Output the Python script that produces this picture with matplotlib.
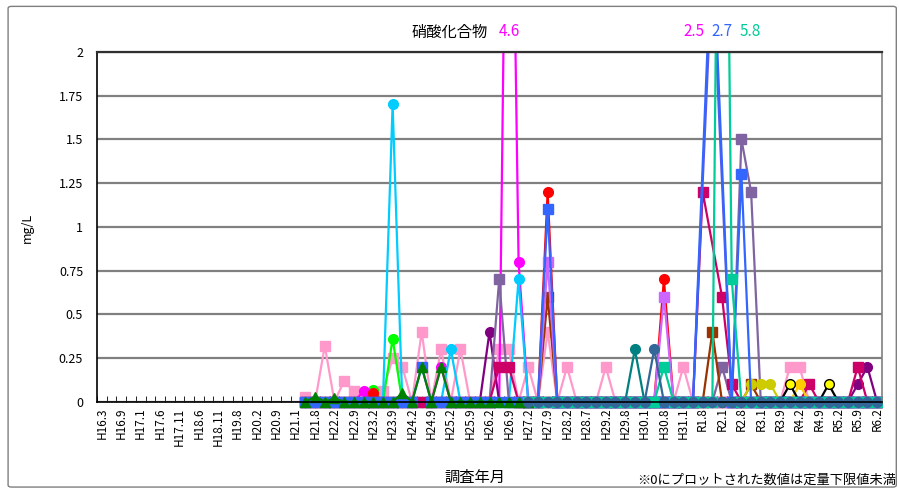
import numpy as np
import matplotlib
matplotlib.use('Agg')
import matplotlib.pyplot as plt
from matplotlib.patches import Rectangle, FancyBboxPatch

plt.rcParams['font.family'] = ['Noto Sans CJK JP', 'DejaVu Sans']

# category axis: 81 survey dates, every second one labelled
n_cat = 81
tick_labels = ['H16.3', 'H16.9', 'H17.1', 'H17.6', 'H17.11', 'H18.6', 'H18.11', 'H19.8',
               'H20.2', 'H20.9', 'H21.1', 'H21.8', 'H22.2', 'H22.9', 'H23.2', 'H23.9',
               'H24.2', 'H24.9', 'H25.2', 'H25.9', 'H26.2', 'H26.9', 'H27.2', 'H27.9',
               'H28.2', 'H28.7', 'H29.2', 'H29.8', 'H30.1', 'H30.8', 'H31.1', 'R1.8',
               'R2.1', 'R2.8', 'R3.1', 'R3.9', 'R4.2', 'R4.9', 'R5.2', 'R5.9', 'R6.2']

# each site: measured from first..last category, 0 (= below limit) unless listed,
# categories in "gaps" were not measured (line connects over them)
# (color, marker, first, last, {category: mg/L}, gaps)
orange = ('#FF6600', 'o', 21, 35, {}, [])
lpink = ('#FF99CC', 's', 21, 80, {21: 0.03, 23: 0.32, 25: 0.12, 26: 0.06, 29: 0.06, 30: 0.25,
                                  31: 0.2, 33: 0.4, 35: 0.3, 37: 0.3, 41: 0.3, 42: 0.3, 44: 0.2,
                                  46: 0.4, 48: 0.2, 52: 0.2, 60: 0.2, 71: 0.2, 72: 0.2}, [])
lime = ('#00FF00', 'o', 21, 44, {28: 0.07, 30: 0.36}, [])
magenta = ('#FF00FF', 'o', 21, 80, {27: 0.06, 35: 0.2, 42: 4.6, 43: 0.8}, [])
red = ('#FF0000', 'o', 21, 80, {28: 0.05, 46: 1.2, 58: 0.7}, [])
cyan = ('#00CCFF', 'o', 21, 80, {30: 1.7, 36: 0.3, 43: 0.7}, [])
purple = ('#800080', 'o', 21, 80, {40: 0.4, 78: 0.1, 79: 0.2}, [])
slate = ('#8064A2', 's', 21, 80, {41: 0.7, 64: 0.2, 66: 1.5, 67: 1.2}, [])
crimson = ('#CC0066', 's', 21, 80, {41: 0.2, 42: 0.2, 62: 1.2, 64: 0.6, 65: 0.1, 73: 0.1,
                                    78: 0.2}, [63])
brown = ('#993300', 's', 44, 80, {46: 0.6, 63: 0.4, 67: 0.1}, [])
violet = ('#CC66FF', 's', 44, 80, {46: 0.8, 58: 0.6}, [])
olive = ('#CCCC00', 'o', 50, 80, {67: 0.1, 68: 0.1, 69: 0.1}, [])
gold = ('#FFCC00', 'o', 60, 80, {72: 0.1}, [])
yellow = ('#FFFF00', 'o', 60, 80, {71: 0.1, 75: 0.1}, [])
blue = ('#3366FF', 's', 21, 47, {33: 0.2, 46: 1.1}, [])
bviolet = ('#5A5AE6', 's', 47, 80, {63: 2.5}, [62, 64])
blue2 = ('#3366FF', 's', 47, 80, {63: 2.7, 66: 1.3}, [62, 64])
teal = ('#008080', 'o', 44, 80, {55: 0.3}, [])
seagreen = ('#00CC99', 's', 44, 80, {58: 0.2, 64: 5.8, 65: 0.7}, [])
dgreen = ('#008000', '^', 21, 44, {22: 0.03, 24: 0.02, 31: 0.05, 33: 0.2, 35: 0.2}, [])
steel = ('#336699', 'o', 44, 80, {57: 0.3}, [])

# drawing order = series order (later ones on top)
series = [orange, lpink, lime, magenta, red, cyan, purple, slate, crimson, brown, violet,
          olive, gold, yellow, blue, bviolet, blue2, teal, seagreen, dgreen, steel]

# values above the axis top, written over the chart
over_labels = [('4.6', 42.0, '#FF00FF'), ('2.5', 61.1, '#FF00FF'),
               ('2.7', 64.0, '#3366FF'), ('5.8', 66.9, '#00CC99')]

fig = plt.figure(figsize=(8.99, 4.90), dpi=100)
fig.patches.append(FancyBboxPatch((0.009, 0.006), 0.988, 0.981, boxstyle='round,pad=0,rounding_size=0.004',
                                  transform=fig.transFigure, fill=False, edgecolor='#7f7f7f', lw=1))
ax = fig.add_axes([0.108, 0.180, 0.873, 0.714])

# let markers at 0 hang below the axis, but cut lines at the top
clip = Rectangle((0, -0.06), 1, 1.06, transform=ax.transAxes, facecolor='none', edgecolor='none')
ax.add_patch(clip)

for color, marker, first, last, vals, gaps in series:
    xs = [i for i in range(first, last + 1) if i not in gaps]
    ys = [vals.get(i, 0.0) for i in xs]
    if color == '#FFFF00':
        lc, ec = 'black', 'black'
    else:
        lc, ec = color, color
    ln, = ax.plot(xs, ys, color=lc, lw=1.6, marker=marker, markersize=7,
                  markerfacecolor=color, markeredgecolor=ec, markeredgewidth=1)
    ln.set_clip_path(clip)

ax.set_xlim(-0.5, n_cat - 0.5)
ax.set_ylim(0, 2)
ax.set_yticks(np.arange(0, 2.01, 0.25))
ax.set_yticklabels(['0', '0.25', '0.5', '0.75', '1', '1.25', '1.5', '1.75', '2'], fontsize=9)
ax.yaxis.grid(True, color='#808080', lw=1.6)
ax.set_axisbelow(True)
ax.tick_params(axis='y', length=0, pad=10)

ax.set_xticks(np.arange(0, n_cat, 2))
ax.set_xticklabels(tick_labels, rotation=90, fontsize=8.5)
ax.set_xticks(np.arange(-0.5, n_cat, 1), minor=True)
ax.tick_params(axis='x', which='major', length=0, pad=4)
ax.tick_params(axis='x', which='minor', length=4, direction='in', color='black')

for s in ['left', 'bottom']:
    ax.spines[s].set_color('black')
    ax.spines[s].set_linewidth(1.2)
ax.spines['top'].set_color('#303030')
ax.spines['top'].set_linewidth(1.6)
ax.spines['right'].set_color('#808080')
ax.spines['right'].set_linewidth(1.2)

for txt, xpos, col in over_labels:
    ax.text(xpos, 1.035, txt, color=col, fontsize=11, ha='center', va='bottom',
            transform=ax.get_xaxis_transform())

fig.text(0.500, 0.935, '硝酸化合物', ha='center', va='center', fontsize=11)
fig.text(0.031, 0.535, 'mg/L', rotation=90, ha='center', va='center', fontsize=9)
fig.text(0.528, 0.025, '調査年月', ha='center', va='center', fontsize=11)
fig.text(0.997, 0.020, '※0にプロットされた数値は定量下限値未満', ha='right', va='center', fontsize=9.5)

fig.savefig('out.png', dpi=100)
